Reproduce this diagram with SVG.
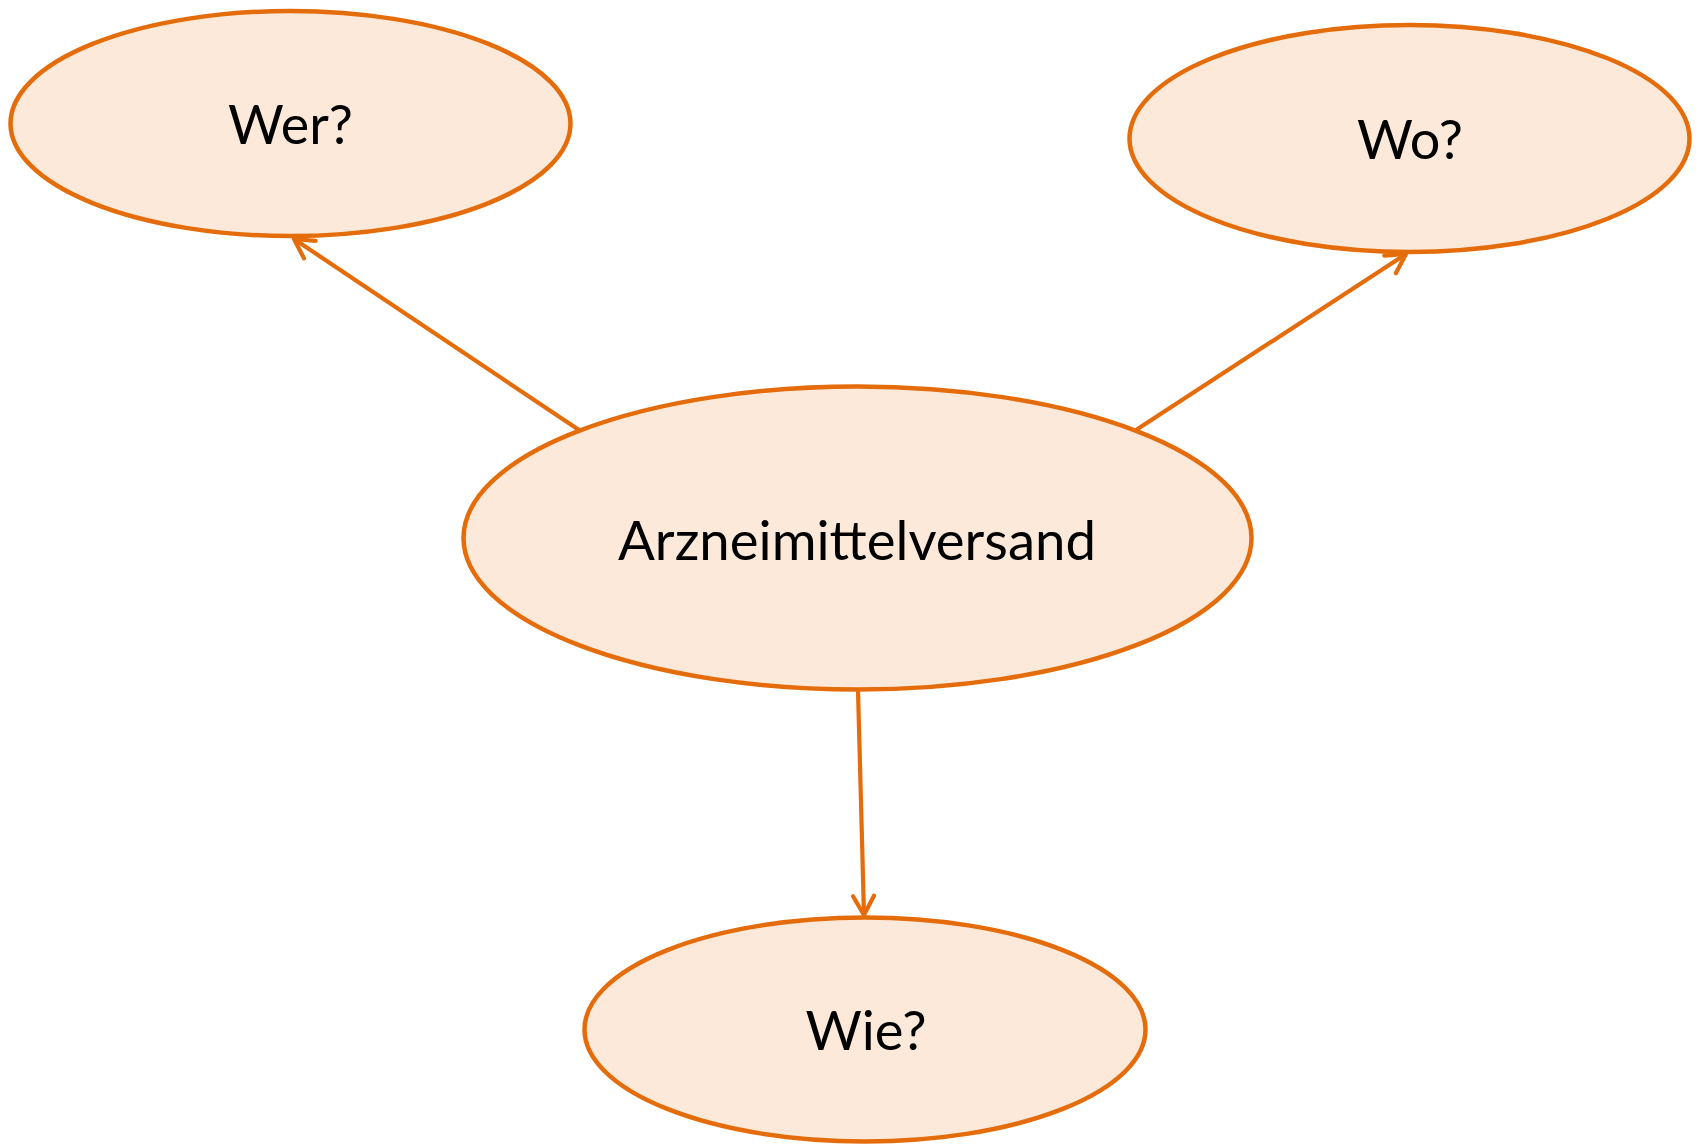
<svg xmlns="http://www.w3.org/2000/svg" width="1698" height="1144" viewBox="0 0 1698 1144">
<style>
.node{fill:#FDE9DA;stroke:#E46C0A;stroke-width:4.5}
.lbl{font-family:Lato,"Open Sans","Liberation Sans",sans-serif;font-size:54px;fill:#000;text-anchor:middle}
.edge{stroke:#E46C0A;stroke-width:4.2;fill:none;marker-end:url(#arr)}
</style>
<defs>
<marker id="arr" markerUnits="userSpaceOnUse" viewBox="-24 -15 28 30" markerWidth="28" markerHeight="30" refX="0" refY="0" orient="auto">
<path d="M-19,-10.5 L0,0 L-19,10.5" fill="none" stroke="#E46C0A" stroke-width="4.2" stroke-linecap="round" stroke-linejoin="round"/>
</marker>
</defs>
<rect width="1698" height="1144" fill="#fff"/>
<g id="connectors">
<line class="edge" x1="579" y1="430" x2="294" y2="239"/>
<line class="edge" x1="1136" y1="430" x2="1406" y2="254"/>
<line class="edge" x1="858" y1="690" x2="864" y2="915"/>
</g>
<g id="node-wer">
<ellipse class="node" cx="290.5" cy="123.5" rx="280" ry="112.5"/>
<text class="lbl" x="290.5" y="144" textLength="125" lengthAdjust="spacingAndGlyphs">Wer?</text>
</g>
<g id="node-wo">
<ellipse class="node" cx="1409.5" cy="138.5" rx="280" ry="113.5"/>
<text class="lbl" x="1410" y="159" textLength="106" lengthAdjust="spacingAndGlyphs">Wo?</text>
</g>
<g id="node-center">
<ellipse class="node" cx="857.5" cy="538" rx="394" ry="151.5"/>
<text class="lbl" x="857" y="560" textLength="478" lengthAdjust="spacingAndGlyphs">Arzneimittelversand</text>
</g>
<g id="node-wie">
<ellipse class="node" cx="865" cy="1029.5" rx="280.5" ry="112"/>
<text class="lbl" x="866" y="1050" textLength="121" lengthAdjust="spacingAndGlyphs">Wie?</text>
</g>
</svg>
